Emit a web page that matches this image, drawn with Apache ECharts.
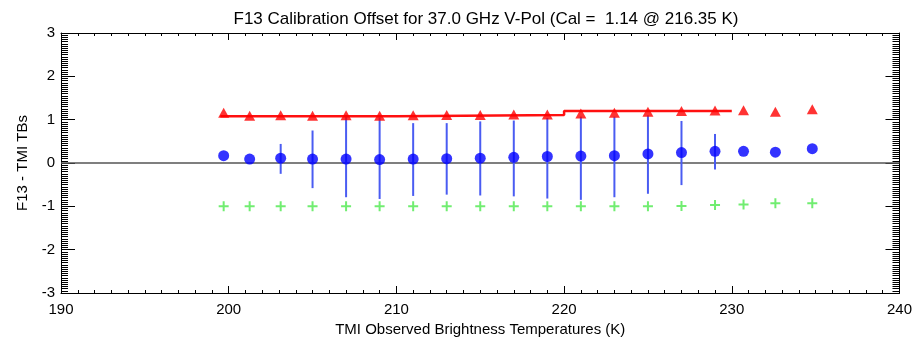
<!DOCTYPE html>
<html lang="en">
<head>
    <meta charset="UTF-8">
    <title>F13 Calibration Offset</title>
    <script src="https://cdn.jsdelivr.net/npm/echarts@6/dist/echarts.min.js"></script>
    <style>
        html, body { margin: 0; padding: 0; background: #fff; }
    </style>
</head>
<body>
<div id="main" style="width: 915px;height:343px;"></div>

<script type="text/javascript">
    // bin centres (K)
    const binTb = [199.7, 201.25, 203.1, 205, 207, 209, 211, 213, 215, 217, 219, 221, 223, 225, 227, 229, 230.7, 232.6, 234.8]
    // red triangles
    const triVals = [1.16, 1.09, 1.1, 1.09, 1.1, 1.09, 1.1, 1.11, 1.11, 1.12, 1.12, 1.14, 1.16, 1.18, 1.2, 1.21, 1.22, 1.18, 1.24]
    // blue dots
    const dotVals = [0.17, 0.09, 0.11, 0.09, 0.09, 0.08, 0.09, 0.1, 0.11, 0.13, 0.15, 0.16, 0.17, 0.21, 0.24, 0.27, 0.27, 0.25, 0.33]
    // blue bars (low / high), null where none
    const barLow = [null, null, -0.25, -0.58, -0.79, -0.83, -0.76, -0.73, -0.75, -0.77, -0.82, -0.85, -0.79, -0.71, -0.51, -0.15, null, null, null]
    const barHigh = [null, null, 0.44, 0.75, 1.07, 1.05, 0.92, 0.92, 0.96, 0.98, 1.04, 1.07, 1.07, 1.1, 0.97, 0.67, null, null, null]
    // green crosses
    const plusVals = [-1.0, -1.0, -1.0, -1.0, -1.0, -1.0, -1.0, -1.0, -1.0, -1.0, -1.0, -1.0, -1.0, -1.0, -0.99, -0.97, -0.96, -0.93, -0.93]
    // red step line (x, y)
    const stepX = [199.5, 210, 210, 220, 220, 230]
    const stepY = [1.08, 1.08, 1.11, 1.11, 1.2, 1.2]
    const zeroX = [190, 240]

    const textFont = 'Liberation Sans, Arial, Helvetica, sans-serif'

    const pair = (xs, ys) => xs.map((x, i) => [x, ys[i]])
    const barData = binTb.map((x, i) => [x, barLow[i], barHigh[i]]).filter(d => d[1] !== null)

    const myChart = echarts.init(document.getElementById('main'))

    const xBase = {
        type: 'value', min: 190, max: 240, interval: 10,
        axisLine: { show: true, onZero: false, lineStyle: { color: '#000', width: 1 } },
        axisTick: { show: true, inside: true, length: 7, lineStyle: { color: '#000' } },
        minorTick: { show: true, splitNumber: 10, length: 3, lineStyle: { color: '#000' } },
        splitLine: { show: false }
    }
    const yBase = {
        type: 'value', min: -3, max: 3, interval: 1,
        axisLine: { show: true, onZero: false, lineStyle: { color: '#000', width: 1 } },
        axisTick: { show: true, inside: true, length: 14, lineStyle: { color: '#000' } },
        minorTick: { show: true, splitNumber: 20, length: 7, lineStyle: { color: '#000' } },
        splitLine: { show: false }
    }

    const option = {
        animation: false,
        backgroundColor: '#fff',
        title: {
            text: 'F13 Calibration Offset for 37.0 GHz V-Pol (Cal =  1.14 @ 216.35 K)',
            left: 481, top: 6, textAlign: 'center',
            textStyle: { fontFamily: textFont, fontWeight: 'normal', fontSize: 17, color: '#000' }
        },
        grid: { left: 61, right: 15, top: 33, bottom: 50 },
        xAxis: [
            Object.assign({}, xBase, {
                position: 'bottom',
                name: 'TMI Observed Brightness Temperatures (K)',
                nameLocation: 'middle', nameGap: 27,
                nameTextStyle: { fontFamily: textFont, fontSize: 15, color: '#000' },
                axisLabel: { margin: 9, fontFamily: textFont, fontSize: 15, color: '#000' }
            }),
            Object.assign({}, xBase, { position: 'top', axisLabel: { show: false } })
        ],
        yAxis: [
            Object.assign({}, yBase, {
                position: 'left',
                name: 'F13 - TMI TBs',
                nameLocation: 'middle', nameGap: 30, nameRotate: 90,
                nameTextStyle: { fontFamily: textFont, fontSize: 15, color: '#000' },
                axisLabel: { margin: 6, fontFamily: textFont, fontSize: 15, color: '#000' }
            }),
            Object.assign({}, yBase, { position: 'right', axisLabel: { show: false } })
        ],
        series: [
            {
                name: 'zero', type: 'line', data: pair(zeroX, [0, 0]),
                symbol: 'none', lineStyle: { color: '#555', width: 1.5 }, z: 1, silent: true
            },
            {
                name: 'range', type: 'custom', data: barData, z: 2,
                renderItem: function (params, api) {
                    const lo = api.coord([api.value(0), api.value(1)])
                    const hi = api.coord([api.value(0), api.value(2)])
                    return {
                        type: 'line',
                        shape: { x1: lo[0], y1: lo[1], x2: hi[0], y2: hi[1] },
                        style: { stroke: '#4a5cf2', lineWidth: 2 }
                    }
                }
            },
            {
                name: 'step', type: 'line', data: pair(stepX, stepY),
                symbol: 'none', lineStyle: { color: '#ff1010', width: 2.5 }, z: 3
            },
            {
                name: 'tri', type: 'scatter', data: pair(binTb, triVals),
                symbol: 'triangle', symbolSize: [11, 10], itemStyle: { color: '#ff0000' }, z: 4
            },
            {
                name: 'dot', type: 'scatter', data: pair(binTb, dotVals),
                symbol: 'circle', symbolSize: 11, itemStyle: { color: '#0000ff' }, z: 5
            },
            {
                name: 'plus', type: 'scatter', data: pair(binTb, plusVals),
                symbol: 'path://M4 0h2v4h4v2h-4v4h-2v-4h-4v-2h4z', symbolSize: 10,
                itemStyle: { color: '#4ee84e' }, z: 5
            }
        ]
    }

    myChart.setOption(option)
</script>
</body>
</html>
